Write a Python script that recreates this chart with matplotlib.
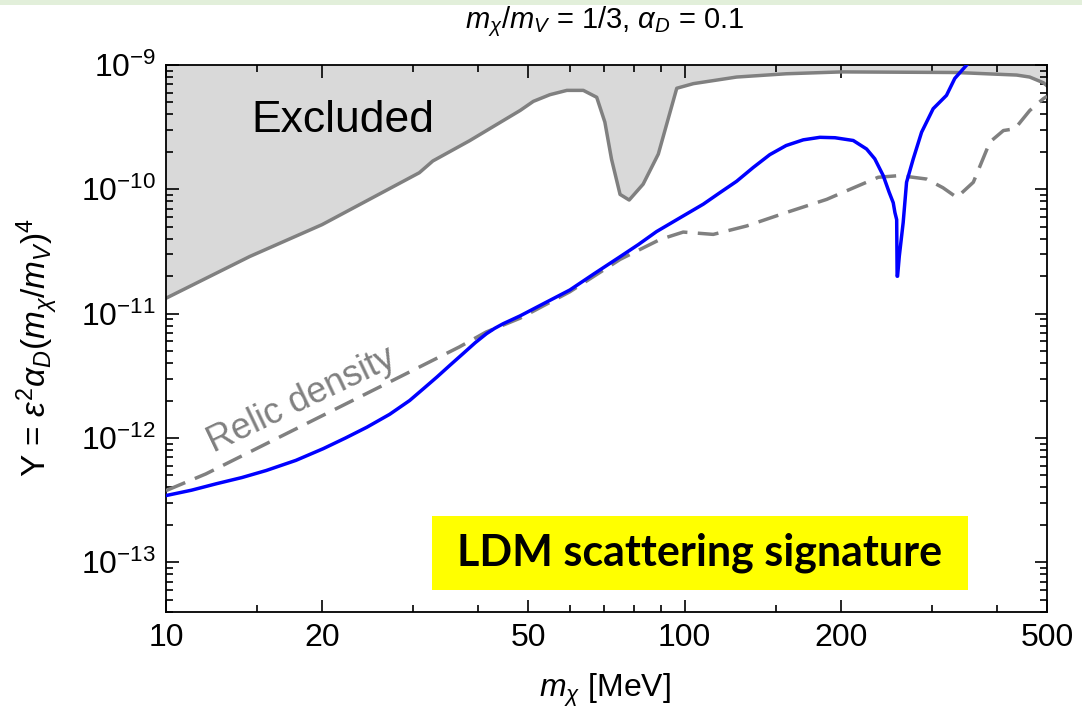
import matplotlib
matplotlib.use("Agg")
import matplotlib.pyplot as plt
from matplotlib.ticker import FixedLocator, NullFormatter, LogLocator, LogFormatterSciNotation, FixedFormatter
from matplotlib.patches import Rectangle

plt.rcParams['font.family'] = ['Liberation Sans', 'DejaVu Sans']
plt.rcParams['mathtext.fontset'] = 'custom'
plt.rcParams['mathtext.rm'] = 'Liberation Sans'
plt.rcParams['mathtext.it'] = 'Liberation Sans:italic'
plt.rcParams['mathtext.bf'] = 'Liberation Sans:bold'

# ---- data ----
excl_x = [10, 14.5, 20, 30.8, 32.7, 38.5, 48.2, 51.1, 55.0, 59.3, 63.8, 67.7, 70.2, 72.3,
          75.1, 78.2, 83.2, 89.0, 96.6, 104, 126, 157, 201, 335, 437, 463, 492, 500]
excl_y = [1.33e-11, 2.88e-11, 5.2e-11, 1.36e-10, 1.69e-10, 2.46e-10, 4.31e-10, 5.1e-10,
          5.77e-10, 6.25e-10, 6.25e-10, 5.5e-10, 3.47e-10, 1.75e-10, 9.1e-11, 8.2e-11,
          1.1e-10, 1.92e-10, 6.5e-10, 7.08e-10, 8.0e-10, 8.5e-10, 8.8e-10, 8.7e-10,
          8.3e-10, 8.0e-10, 7.2e-10, 6.8e-10]

sig_x = [10, 11.2, 12.5, 14.0, 15.6, 17.8, 20.1, 22.2, 24.4, 27.0, 29.5, 31.4, 33.3, 35.3,
         37.4, 39.5, 41.5, 43.0, 44.7, 48.2, 53.4, 60.1, 67.0, 75.1, 81.5, 88.3, 98.0,
         108.7, 117.0, 126, 135.7, 146, 157, 169.4, 182.4, 195, 211.5, 224.4, 232.7,
         241.6, 248.0, 252.6, 254.5, 256.5, 257.0, 257.5, 259.5, 264, 268, 276, 286.5,
         301.6, 320, 332, 350]
sig_y = [3.44e-13, 3.8e-13, 4.28e-13, 4.8e-13, 5.47e-13, 6.6e-13, 8.2e-13, 1.0e-12,
         1.22e-12, 1.55e-12, 2.0e-12, 2.5e-12, 3.09e-12, 3.85e-12, 4.77e-12, 5.85e-12,
         6.9e-12, 7.6e-12, 8.3e-12, 9.6e-12, 1.2e-11, 1.55e-11, 2.1e-11, 2.87e-11,
         3.6e-11, 4.57e-11, 5.9e-11, 7.6e-11, 9.4e-11, 1.16e-10, 1.5e-10, 1.9e-10,
         2.25e-10, 2.5e-10, 2.62e-10, 2.6e-10, 2.47e-10, 2.11e-10, 1.76e-10, 1.29e-10,
         9.5e-11, 7.8e-11, 6.5e-11, 5.7e-11, 2.0e-11, 2.0e-11, 2.9e-11, 5.4e-11,
         1.14e-10, 1.75e-10, 2.88e-10, 4.45e-10, 5.7e-10, 7.8e-10, 1.0e-9]

rel_x = [10, 11.94, 18.07, 28.2, 36.8, 41.4, 48.2, 60.1, 75.1, 89.7, 99.4, 113.6, 131.7,
         157, 188, 199, 236.3, 260, 292.8, 315, 335, 360.5, 388, 412, 433.6, 463, 492, 500]
rel_y = [3.77e-13, 5.14e-13, 1.22e-12, 3.09e-12, 5.4e-12, 7.1e-12, 9.2e-12, 1.5e-11,
         2.73e-11, 3.95e-11, 4.53e-11, 4.34e-11, 5.07e-11, 6.5e-11, 8.3e-11, 9.2e-11,
         1.25e-10, 1.29e-10, 1.21e-10, 1.03e-10, 8.6e-11, 1.14e-10, 2.4e-10, 2.97e-10,
         3.07e-10, 4.3e-10, 5.36e-10, 5.6e-10]

x_major = [10, 20, 50, 100, 200, 500]
x_major_labels = ['10', '20', '50', '100', '200', '500']
x_minor = [15, 30, 40, 60, 70, 80, 90, 150, 300, 400]

xlim = (10, 500)
ylim = (10**-13.4, 1e-9)

# ---- figure ----
fig = plt.figure(figsize=(10.82, 7.24), dpi=100)
fig.patches.append(Rectangle((0, 1 - 5 / 724), 1, 5 / 724, transform=fig.transFigure,
                             facecolor='#e2efda', edgecolor='none', zorder=0))

ax = fig.add_axes([166 / 1082, 1 - 612 / 724, (1047 - 166) / 1082, (612 - 65) / 724])
ax.set_xscale('log')
ax.set_yscale('log')
ax.set_xlim(*xlim)
ax.set_ylim(*ylim)

ax.fill_between(excl_x, excl_y, [ylim[1]] * len(excl_x), facecolor='#d9d9d9',
                edgecolor='none', zorder=1)
ax.plot(excl_x, excl_y, color='#808080', lw=2.5, zorder=2, solid_joinstyle='round')
ax.plot(rel_x, rel_y, color='#808080', lw=2.5, dashes=(6.0, 3.0), zorder=3)
ax.plot(sig_x, sig_y, color='#0000ff', lw=2.5, zorder=4, solid_joinstyle='round')

ax.xaxis.set_major_locator(FixedLocator(x_major))
ax.xaxis.set_major_formatter(FixedFormatter(x_major_labels))
ax.xaxis.set_minor_locator(FixedLocator(x_minor))
ax.xaxis.set_minor_formatter(NullFormatter())
ax.yaxis.set_major_locator(FixedLocator([1e-13, 1e-12, 1e-11, 1e-10, 1e-9]))
ax.yaxis.set_major_formatter(LogFormatterSciNotation())
ax.yaxis.set_minor_locator(LogLocator(base=10, subs=range(2, 10), numticks=20))
ax.yaxis.set_minor_formatter(NullFormatter())

ax.tick_params(which='both', direction='in', top=True, right=True, width=1.2, colors='black')
ax.tick_params(which='major', length=9, labelsize=23)
ax.tick_params(which='minor', length=5)
ax.tick_params(axis='x', which='major', pad=8)
ax.tick_params(axis='y', which='major', pad=7)
for s in ax.spines.values():
    s.set_linewidth(1.3)

fig.text(343 / 1082, 1 - 120 / 724, 'Excluded', fontsize=32, ha='center', va='center',
         color='black', zorder=5)
fig.text(302 / 1082, 1 - 400 / 724, 'Relic density', fontsize=26, color='#808080',
         rotation=25.5, ha='center', va='center', rotation_mode='anchor')

fig.patches.append(Rectangle((432 / 1082, 1 - 590 / 724), (968 - 432) / 1082, 74 / 724,
                             transform=fig.transFigure, facecolor='#ffff00',
                             edgecolor='none', zorder=5))
fig.text(700 / 1082, 1 - 553 / 724, 'LDM scattering signature', fontsize=31,
         fontweight='bold', family=['Lato', 'DejaVu Sans'], ha='center', va='center',
         color='black', zorder=6)

fig.text(605 / 1082, 1 - 22 / 724, r'$m_\chi/m_V$ = 1/3, $\alpha_D$ = 0.1', fontsize=21,
         ha='center', va='center')
fig.text(605 / 1082, 1 - 690 / 724, r'$m_\chi$ [MeV]', fontsize=23, ha='center', va='center')
fig.text(38 / 1082, 1 - 348 / 724, r'Y = $\varepsilon^2\alpha_D(m_\chi/m_V)^4$', fontsize=24,
         ha='center', va='center', rotation=90)

fig.savefig('out.png', dpi=100)
